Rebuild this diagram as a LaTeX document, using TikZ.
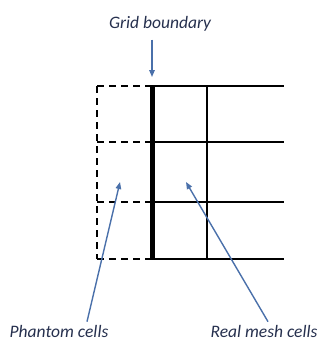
\documentclass[tikz,border=0pt]{standalone}
\usepackage{fontspec}
\setmainfont{Carlito}
\usetikzlibrary{arrows.meta}
\definecolor{arrowblue}{RGB}{74,112,170}
\definecolor{labelink}{RGB}{38,48,78}

\begin{document}
\begin{tikzpicture}[x=1pt,y=-1pt,
    gridline/.style={line width=1.8pt, black},
    phantomline/.style={line width=1.6pt, dash pattern=on 7pt off 5pt},
    pointer/.style={-{Triangle[length=7pt,width=5.5pt]}, line width=1.4pt, arrowblue},
    caption/.style={font=\itshape\fontsize{17.5}{21}\selectfont, text=labelink, inner sep=0pt}]
    \useasboundingbox (0,0) rectangle (324,343);
    % Pixel coordinates, y grows downward.
    % Phantom layer left of the wall, real mesh right of it.
    \foreach \y in {86,142,202,259} {
      \draw[phantomline] (97,\y) -- (152,\y);
      \draw[gridline] (152,\y) -- (284,\y);
    }
    \draw[phantomline] (97,86) -- (97,259);
    \draw[gridline] (207,86) -- (207,259);
    \draw[line width=5pt] (152,86) -- (152,259);

    % Labels
    \node[caption] (boundary) at (160,24) {Grid boundary};
    \node[caption] (phantom) at (59,331) {Phantom cells};
    \node[caption] (real) at (264,331) {Real mesh cells};

    \coordinate (wall top) at (152,77);
    \coordinate (phantom cell) at (120,182);
    \coordinate (real cell) at (186,182);

    \draw[pointer] (boundary.south -| wall top) ++(0,8) -- (wall top);
    \draw[pointer] ([xshift=28pt,yshift=3pt]phantom.north) -- (phantom cell);
    \draw[pointer] ([xshift=4pt,yshift=3pt]real.north) -- (real cell);
  \end{tikzpicture}
\end{document}
